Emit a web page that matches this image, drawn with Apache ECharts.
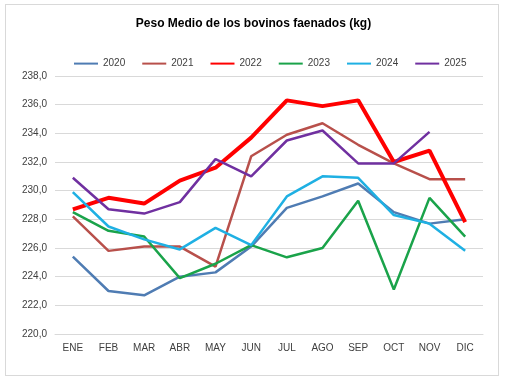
<!DOCTYPE html>
<html><head><meta charset="utf-8">
<script src="https://cdn.jsdelivr.net/npm/echarts@6/dist/echarts.min.js"></script>
<style>
html,body{margin:0;padding:0;background:#fff;}
#frame{position:absolute;left:5px;top:4px;width:494px;height:372px;border:1px solid #d9d9d9;box-sizing:border-box;}
#c{position:absolute;left:0;top:0;width:507px;height:383px;}
</style></head>
<body>
<div id="frame"></div>
<div id="c"></div>
<script>
const months = ['ENE','FEB','MAR','ABR','MAY','JUN','JUL','AGO','SEP','OCT','NOV','DIC'];
const s2020 = [225.4,223.0,222.7,224.0,224.3,226.1,228.8,229.6,230.5,228.5,227.7,228.0];
const s2021 = [228.2,225.8,226.1,226.1,224.7,232.4,233.9,234.7,233.2,231.9,230.8,230.8];
const s2022 = [228.7,229.5,229.1,230.7,231.6,233.7,236.3,235.9,236.3,232.0,232.8,227.8];
const s2023 = [228.5,227.2,226.8,223.9,224.9,226.2,225.35,226.0,229.3,223.1,229.5,226.8];
const s2024 = [229.9,227.5,226.6,225.9,227.4,226.2,229.6,231.0,230.9,228.3,227.7,225.8];
const s2025 = [230.9,228.7,228.4,229.2,232.2,231.0,233.5,234.2,231.9,231.9,234.1,null];
const yTicks = {min:220, max:238, interval:2};

const chart = echarts.init(document.getElementById('c'), null, {renderer:'canvas'});
function ser(name, data, color, width){
  return {name, type:'line', data, symbol:'none', smooth:false,
    lineStyle:{color, width}, itemStyle:{color}, connectNulls:false, animation:false};
}
chart.setOption({
  animation:false,
  textStyle:{fontFamily:'Liberation Sans, Arial, sans-serif'},
  title:{text:'Peso Medio de los bovinos faenados (kg)', left:'center', top:13,
    textStyle:{fontSize:12, fontWeight:'bold', color:'#000', fontFamily:'Liberation Sans, Arial, sans-serif'}},
  legend:{left:68, top:53, itemWidth:24, itemHeight:14, itemGap:16,
    itemStyle:{opacity:0},
    textStyle:{fontSize:10, color:'#404040'},
    data:['2020','2021','2022','2023','2024','2025']},
  grid:{left:55, right:24, top:76, bottom:49, containLabel:false},
  xAxis:{type:'category', data:months, boundaryGap:true,
    axisLine:{lineStyle:{color:'#d9d9d9'}}, axisTick:{show:false},
    axisLabel:{color:'#404040', fontSize:10, margin:9}},
  yAxis:{type:'value', min:yTicks.min, max:yTicks.max, interval:yTicks.interval,
    axisLine:{show:false}, axisTick:{show:false},
    splitLine:{lineStyle:{color:'#d9d9d9'}},
    axisLabel:{color:'#404040', fontSize:10, margin:8,
      formatter:v=>v.toFixed(1).replace('.',',')}},
  series:[
    ser('2020', s2020, '#4F7CB3', 2.5),
    ser('2021', s2021, '#B8504B', 2.5),
    ser('2022', s2022, '#FF0000', 4),
    ser('2023', s2023, '#1AA34A', 2.5),
    ser('2024', s2024, '#1FB0E3', 2.5),
    ser('2025', s2025, '#7030A0', 2.5)
  ]
});
</script>
</body></html>
